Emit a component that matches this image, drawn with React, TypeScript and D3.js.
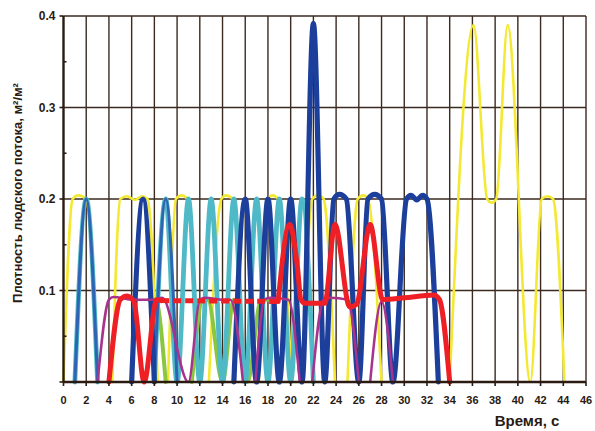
import React from 'react';
import * as d3 from 'd3';

type P = [number, number] | null;

const X_TICKS = d3.range(0, 47, 2);
const Y_TICKS = [0, 0.1, 0.2, 0.3, 0.4];
const Y_MINOR = [0.05, 0.15, 0.25, 0.35];
const X_TITLE = 'Время, с';
const Y_TITLE = 'Плотность людского потока, м²/м²';

const yellow: P[] = [
  [0, 0], [0.8, 0.2], [1.3, 0.204], [2, 0.2], [3, 0], null,
  [4.3, 0], [5, 0.2], [5.6, 0.203], [6.3, 0.199], [6.9, 0.203], [7.4, 0.2], [8.3, 0], null,
  [9.2, 0], [9.9, 0.2], [10.4, 0.204], [10.9, 0.2], [11.9, 0], null,
  [12.8, 0], [13.9, 0.2], [14.3, 0.204], [14.9, 0.2], [15.9, 0], null,
  [17.2, 0], [18, 0.2], [18.4, 0.204], [18.9, 0.2], [20.1, 0], null,
  [21, 0], [21.9, 0.2], [22.4, 0.204], [22.9, 0.2], [23.9, 0], null,
  [25, 0], [25.9, 0.2], [26.4, 0.204], [26.8, 0.2], [28, 0], null,
  [34, 0], [36.1, 0.39], [37.3, 0.2], [37.7, 0.196], [38.1, 0.2], [39.1, 0.39], [41.1, 0],
  [42.1, 0.2], [42.6, 0.203], [43.1, 0.2], [44.1, 0],
];

const green: P[] = [
  [7.5, 0.09], [8.1, 0.09], [9, 0], null,
  [11.3, 0], [12.3, 0.09], [12.7, 0.09], [14, 0], [15, 0.09], [16.2, 0], [17.4, 0.09], [18, 0.09],
];

const cyan: P[] = [
  [1, 0], [2, 0.2], [3, 0], null,
  [8, 0], [9, 0.2], [10, 0], [11, 0.2], [12, 0], [13, 0.2], [14, 0], [15, 0.2], [16, 0],
  [17, 0.2], [18, 0], [19, 0.2], [20, 0], [21, 0.2], [22, 0],
];

const steelBlue: P[] = [
  [1, 0], [2, 0.2], [3, 0], null,
  [8, 0], [9, 0.2], [10, 0],
];

const darkBlue: P[] = [
  [6, 0], [7, 0.2], [8, 0], null,
  [15, 0], [16, 0.2], [17, 0], [18, 0.2], [19, 0], [20, 0.2], [21, 0], [22, 0.392], [23, 0],
  [23.8, 0.2], [24.3, 0.205], [24.9, 0.2], [26, 0], [26.8, 0.2], [27.4, 0.205], [28, 0.2], [29, 0],
  [30.2, 0.2], [30.6, 0.204], [31.1, 0.199], [31.6, 0.204], [32, 0.2], [33, 0],
];

const magenta: P[] = [
  [3, 0], [4, 0.09], [4.4, 0.093], [6, 0.09], [8, 0.09], [8.7, 0.092], [11, 0],
  [12, 0.09], [12.5, 0.092], [14, 0.09], [14.7, 0.09], [15.8, 0], null,
  [16.9, 0], [17.7, 0.09], [18.2, 0.092], [19.8, 0.09], [20.8, 0], null,
  [21.9, 0], [22.9, 0.09], [23.5, 0.092], [25, 0.09], [26, 0], null,
  [27, 0], [28, 0.088], [29, 0],
];

const redSolid: P[] = [
  [4, 0], [5, 0.09], [5.6, 0.094], [6.2, 0.088], [7.1, 0], [8.2, 0.09], [8.6, 0.089], null,
  [18.9, 0.088], [19.9, 0.172], [20.6, 0.125], [20.9, 0.09], [21.3, 0.086], [23, 0.086],
  [23.9, 0.172], [25.2, 0.082], [25.8, 0.085], [27, 0.172], [28.1, 0.09], [30, 0.092],
  [32.6, 0.095], [33.1, 0.09], [34, 0],
];

const redDashed: P[] = [[8.6, 0.089], [19, 0.088]];

export default function App() {
  const W = 595;
  const H = 431;
  const x = d3.scaleLinear().domain([0, 46]).range([63.5, 586]);
  const y = d3.scaleLinear().domain([0, 0.4]).range([382, 16]);
  const line = d3
    .line<P>()
    .defined((d) => d !== null)
    .x((d) => x((d as [number, number])[0]))
    .y((d) => y((d as [number, number])[1]))
    .curve(d3.curveMonotoneX);

  const grid = '#3b2a20';
  const font = '"Liberation Sans", Arial, sans-serif';

  const series = [
    { data: yellow, color: '#f3e932', w: 2.6 },
    { data: green, color: '#8cc63f', w: 4 },
    { data: cyan, color: '#4fb9c7', w: 4.8 },
    { data: steelBlue, color: '#2f63b3', w: 3 },
    { data: darkBlue, color: '#1d3f9c', w: 5.2 },
    { data: magenta, color: '#a7338e', w: 2.5 },
    { data: redSolid, color: '#ee1f25', w: 5 },
  ];

  return (
    <svg width={W} height={H} style={{ position: 'absolute', left: 0, top: 0, background: '#fff' }}>
      <rect x={0} y={0} width={W} height={H} fill="#ffffff" />
      {X_TICKS.filter((t) => t > 0).map((t) => (
        <line key={'gx' + t} x1={x(t)} x2={x(t)} y1={y(0.4)} y2={y(0)} stroke={grid} strokeWidth={1.4} />
      ))}
      {Y_TICKS.filter((t) => t > 0).map((t) => (
        <line key={'gy' + t} x1={x(0)} x2={x(46)} y1={y(t)} y2={y(t)} stroke={grid} strokeWidth={1.4} />
      ))}
      {series.map((s, i) => (
        <path key={'s' + i} d={line(s.data) || ''} fill="none" stroke={s.color} strokeWidth={s.w}
          strokeLinejoin="round" strokeLinecap="round" />
      ))}
      <path d={line(redDashed) || ''} fill="none" stroke="#ee1f25" strokeWidth={5} strokeDasharray="8 4" />
      <line x1={x(0)} x2={x(46)} y1={y(0)} y2={y(0)} stroke="#2a1a12" strokeWidth={2.4} />
      <line x1={x(0)} x2={x(0)} y1={y(0.4)} y2={y(0)} stroke="#2a1a12" strokeWidth={2.4} />
      {X_TICKS.map((t) => (
        <line key={'tx' + t} x1={x(t)} x2={x(t)} y1={y(0)} y2={y(0) + 4} stroke="#2a1a12" strokeWidth={1.6} />
      ))}
      {Y_TICKS.map((t) => (
        <line key={'ty' + t} x1={x(0) - 4} x2={x(0)} y1={y(t)} y2={y(t)} stroke="#2a1a12" strokeWidth={1.6} />
      ))}
      {Y_MINOR.map((t) => (
        <line key={'tm' + t} x1={x(0)} x2={x(0) + 3} y1={y(t)} y2={y(t)} stroke="#2a1a12" strokeWidth={1.6} />
      ))}
      {X_TICKS.map((t) => (
        <text key={'lx' + t} x={x(t)} y={y(0) + 22} textAnchor="middle" fontFamily={font} fontWeight="bold"
          fontSize={11} fill="#2a1a12">{t}</text>
      ))}
      {Y_TICKS.filter((t) => t > 0).map((t) => (
        <text key={'ly' + t} x={x(0) - 8} y={y(t) + 4} textAnchor="end" fontFamily={font} fontWeight="bold"
          fontSize={12} fill="#2a1a12">{d3.format('.1f')(t)}</text>
      ))}
      <text x={527} y={426} textAnchor="middle" fontFamily={font} fontWeight="bold" fontSize={15} fill="#2a1a12">
        {X_TITLE}
      </text>
      <text transform={`translate(22, ${y(0.2) - 6}) rotate(-90)`} textAnchor="middle" fontFamily={font}
        fontWeight="bold" fontSize={13} fill="#2a1a12">
        {Y_TITLE}
      </text>
    </svg>
  );
}
